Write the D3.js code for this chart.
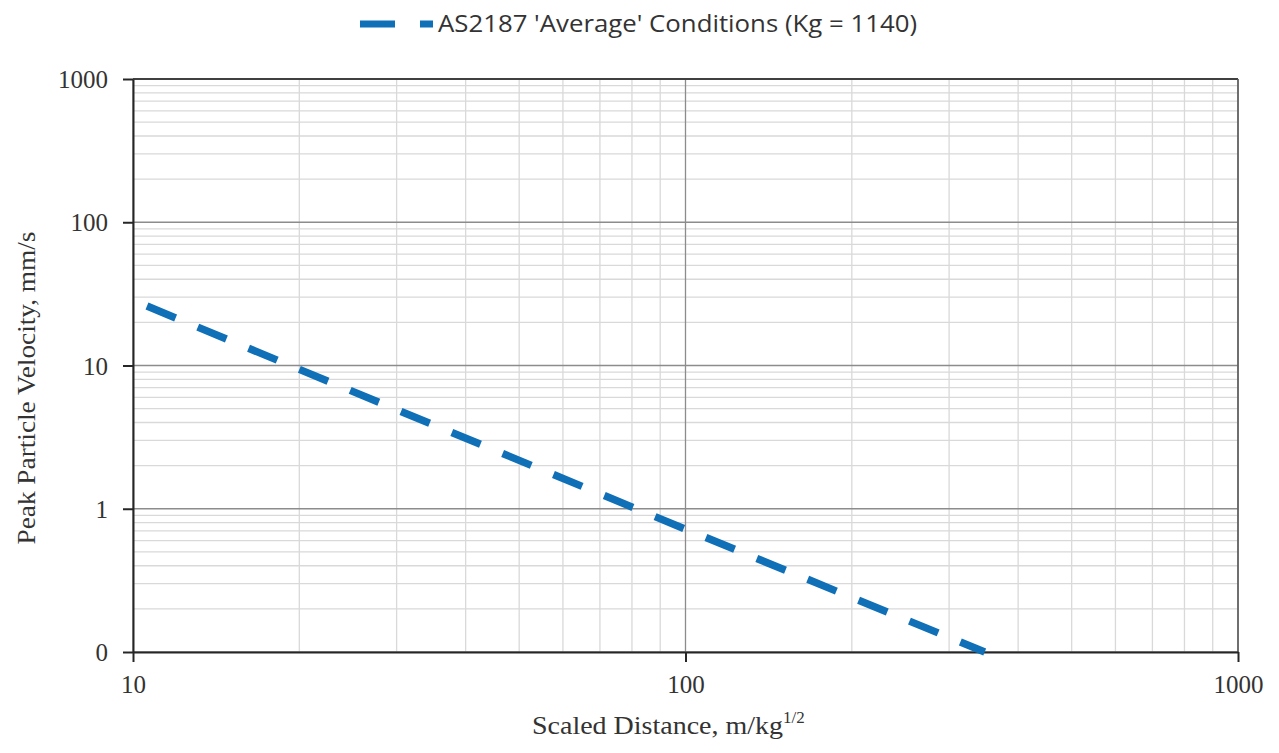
<!DOCTYPE html>
<html>
<head>
<meta charset="utf-8">
<script src="https://cdn.jsdelivr.net/npm/d3@7"></script>
<style>
  body { margin: 0; background: #fff; }
  svg { display: block; }
</style>
</head>
<body>
<svg width="1279" height="753"></svg>
<script>
// datos (AS2187, Kg = 1140)
const seriesName = "AS2187 'Average' Conditions (Kg = 1140)";
const scaledDistance = [10.6, 20, 100, 348];
const ppv = [26, 9.4, 0.72, 0.1];

const xTicks = [10, 100, 1000];
const xTickLabels = ["10", "100", "1000"];
const yTicks = [0.1, 1, 10, 100, 1000];
const yTickLabels = ["0", "1", "10", "100", "1000"];

const svg = d3.select("svg");
const plotL = 133, plotR = 1238, plotT = 79, plotB = 652;
const serif = "Liberation Serif, serif";

const x = d3.scaleLog().domain([10, 1000]).range([plotL, plotR]);
const y = d3.scaleLog().domain([0.1, 1000]).range([plotB, plotT]);

// lineas de cuadricula menores
const minorX = [];
for (let d = 10; d < 1000; d *= 10)
  for (let k = 2; k <= 9; k++) minorX.push(d * k);
const minorY = [];
for (let d = 0.1; d < 999; d *= 10)
  for (let k = 2; k <= 9; k++) minorY.push(+(d * k).toPrecision(3));

const grid = svg.append("g");
grid.selectAll(".mx").data(minorX).enter().append("line")
  .attr("x1", d => x(d)).attr("x2", d => x(d))
  .attr("y1", plotT).attr("y2", plotB)
  .attr("stroke", "#d9d9d9").attr("stroke-width", 1.3);
grid.selectAll(".my").data(minorY).enter().append("line")
  .attr("x1", plotL).attr("x2", plotR)
  .attr("y1", d => y(d)).attr("y2", d => y(d))
  .attr("stroke", "#d9d9d9").attr("stroke-width", 1.3);

// lineas mayores
grid.selectAll(".MX").data(xTicks).enter().append("line")
  .attr("x1", d => x(d)).attr("x2", d => x(d))
  .attr("y1", plotT).attr("y2", plotB)
  .attr("stroke", "#8c8c8c").attr("stroke-width", 1.3);
grid.selectAll(".MY").data(yTicks).enter().append("line")
  .attr("x1", plotL).attr("x2", plotR)
  .attr("y1", d => y(d)).attr("y2", d => y(d))
  .attr("stroke", "#8c8c8c").attr("stroke-width", 1.3);

// borde superior y derecho
svg.append("line").attr("x1", plotL).attr("x2", plotR).attr("y1", plotT).attr("y2", plotT)
  .attr("stroke", "#404040").attr("stroke-width", 2);
svg.append("line").attr("x1", plotR).attr("x2", plotR).attr("y1", plotT).attr("y2", plotB)
  .attr("stroke", "#595959").attr("stroke-width", 1.5);

// ejes
const xAxis = d3.axisBottom(x).tickValues(xTicks)
  .tickFormat((d, i) => xTickLabels[i]).tickSize(10).tickSizeOuter(0);
const yAxis = d3.axisLeft(y).tickValues(yTicks)
  .tickFormat((d, i) => yTickLabels[i]).tickSize(10).tickSizeOuter(0);

const gx = svg.append("g").attr("transform", `translate(0,${plotB})`).call(xAxis);
const gy = svg.append("g").attr("transform", `translate(${plotL},0)`).call(yAxis);
[gx, gy].forEach(g => {
  g.select(".domain").attr("stroke", "#262626").attr("stroke-width", 2);
  g.selectAll(".tick line").attr("stroke", "#262626").attr("stroke-width", 2);
  g.selectAll("text").attr("font-family", serif).attr("font-size", 25)
    .attr("fill", "#333");
});
gx.selectAll("text").attr("y", 41).attr("dy", 0);
gy.selectAll("text").attr("x", -25).attr("dy", "0.34em");

// serie
const pts = scaledDistance.map((d, i) => [d, ppv[i]]);
svg.append("path")
  .datum(pts)
  .attr("d", d3.line().x(d => x(d[0])).y(d => y(d[1])))
  .attr("fill", "none")
  .attr("stroke", "#0f6fb7")
  .attr("stroke-width", 7.5)
  .attr("stroke-dasharray", "31,24");

// leyenda
svg.append("line")
  .attr("x1", 360).attr("x2", 433).attr("y1", 24).attr("y2", 24)
  .attr("stroke", "#0f6fb7").attr("stroke-width", 7)
  .attr("stroke-dasharray", "35,25");
svg.append("text")
  .attr("x", 438).attr("y", 32)
  .attr("font-family", "Open Sans").attr("font-size", 23.5).attr("fill", "#333")
  .attr("textLength", 479).attr("lengthAdjust", "spacingAndGlyphs")
  .text(seriesName);

// titulos de ejes
const xt = svg.append("text")
  .attr("x", 532).attr("y", 734)
  .attr("font-family", serif).attr("font-size", 25).attr("fill", "#333");
xt.append("tspan")
  .attr("textLength", 251).attr("lengthAdjust", "spacingAndGlyphs")
  .text("Scaled Distance, m/kg");
xt.append("tspan").attr("font-size", 17).attr("dy", -11).text("1/2");

svg.append("text")
  .attr("transform", "translate(35,388) rotate(-90)")
  .attr("text-anchor", "middle")
  .attr("font-family", serif).attr("font-size", 25).attr("fill", "#333")
  .attr("textLength", 313).attr("lengthAdjust", "spacingAndGlyphs")
  .text("Peak Particle Velocity, mm/s");
</script>
</body>
</html>
